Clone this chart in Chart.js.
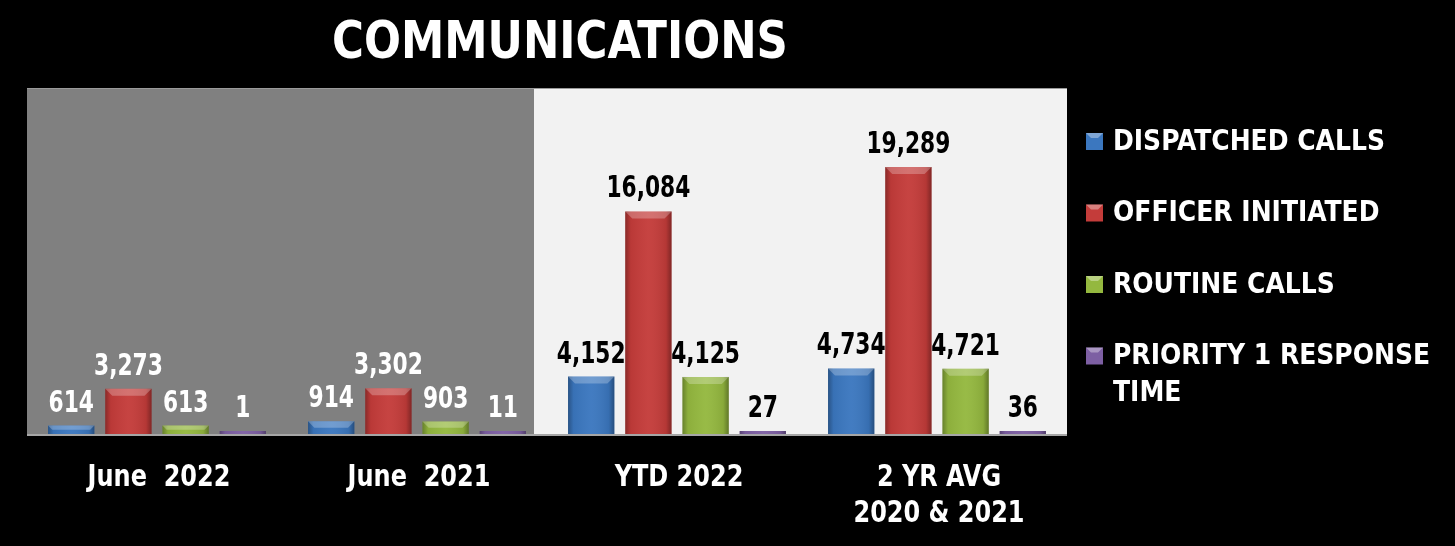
<!DOCTYPE html>
<html>
<head>
<meta charset="utf-8">
<script src="https://cdn.jsdelivr.net/npm/chart.js@4/dist/chart.umd.min.js"></script>
<style>
  html, body { margin: 0; padding: 0; background: #000; }
  #wrap { width: 1455px; height: 546px; position: relative; }
</style>
</head>
<body>
<div id="wrap"><canvas id="c" width="1455" height="546"></canvas></div>
<script>
const titleText = 'COMMUNICATIONS';
const categories = ['June  2022', 'June  2021', 'YTD 2022', ['2 YR AVG', '2020 & 2021']];
const seriesNames = ['DISPATCHED CALLS', 'OFFICER INITIATED', 'ROUTINE CALLS', 'PRIORITY 1 RESPONSE TIME'];
const dispatchedCalls = [614, 914, 4152, 4734];
const officerInitiated = [3273, 3302, 16084, 19289];
const routineCalls = [613, 903, 4125, 4721];
const priority1Response = [1, 11, 27, 36];
const seriesColors = ['#3b77bf', '#c43c3a', '#94b83f', '#7d5fa3'];

const COND = '"DejaVu Sans Condensed", "Liberation Sans Narrow", sans-serif';

const seriesValues = [dispatchedCalls, officerInitiated, routineCalls, priority1Response];

function splitX(chart) {
  const xs = chart.scales.x;
  const a = xs.getPixelForValue(1), b = xs.getPixelForValue(2);
  return a + (b - a) * 0.45;
}

function narrowText(ctx, text, x, y, sx) {
  ctx.save();
  ctx.translate(x, y);
  ctx.scale(sx, 1);
  ctx.fillText(text, 0, 0);
  ctx.restore();
}

const backgroundPlugin = {
  id: 'bgPanels',
  beforeDatasetsDraw(chart) {
    const { ctx, chartArea: ca } = chart;
    const mid = splitX(chart);
    ctx.save();
    ctx.fillStyle = '#808080';
    ctx.fillRect(ca.left, ca.top, mid - ca.left, ca.bottom - ca.top);
    ctx.fillStyle = '#f2f2f2';
    ctx.fillRect(mid, ca.top, ca.right - mid, ca.bottom - ca.top);
    ctx.strokeStyle = '#9a9a9a';
    ctx.lineWidth = 1;
    ctx.beginPath();
    ctx.moveTo(ca.left, ca.top + 0.5); ctx.lineTo(ca.right, ca.top + 0.5);
    ctx.stroke();
    ctx.restore();
  },
  afterDatasetsDraw(chart) {
    const { ctx, chartArea: ca } = chart;
    ctx.save();
    ctx.beginPath();
    ctx.rect(ca.left, ca.top, ca.right - ca.left, ca.bottom - ca.top);
    ctx.clip();
    chart.data.datasets.forEach((ds, di) => {
      const meta = chart.getDatasetMeta(di);
      meta.data.forEach((el) => {
        const p = el.getProps(['x', 'y', 'base', 'width'], true);
        const left = p.x - p.width / 2, right = p.x + p.width / 2;
        const top = Math.min(p.y, p.base), h = Math.abs(p.base - p.y);
        const g = ctx.createLinearGradient(left, 0, right, 0);
        g.addColorStop(0, 'rgba(0,0,0,0.30)');
        g.addColorStop(0.12, 'rgba(0,0,0,0.05)');
        g.addColorStop(0.5, 'rgba(255,255,255,0.04)');
        g.addColorStop(0.88, 'rgba(0,0,0,0.08)');
        g.addColorStop(1, 'rgba(0,0,0,0.35)');
        ctx.fillStyle = g;
        ctx.fillRect(left, top, p.width, h);
        if (h > 5) {
          const bev = Math.min(7, h / 2);
          ctx.fillStyle = 'rgba(255,255,255,0.25)';
          ctx.beginPath();
          ctx.moveTo(left, top);
          ctx.lineTo(right, top);
          ctx.lineTo(right - bev, top + bev);
          ctx.lineTo(left + bev, top + bev);
          ctx.closePath();
          ctx.fill();
        }
      });
    });
    ctx.restore();
    ctx.save();
    ctx.strokeStyle = '#a6a6a6';
    ctx.lineWidth = 2;
    ctx.beginPath();
    ctx.moveTo(ca.left, ca.bottom + 1); ctx.lineTo(ca.right, ca.bottom + 1);
    ctx.stroke();
    ctx.restore();
  }
};

const textPlugin = {
  id: 'texts',
  afterDatasetsDraw(chart) {
    const { ctx, chartArea: ca } = chart;
    const mid = splitX(chart);
    ctx.save();
    // value labels
    ctx.font = 'bold 31px ' + COND;
    ctx.textAlign = 'center';
    ctx.textBaseline = 'alphabetic';
    chart.data.datasets.forEach((ds, di) => {
      const meta = chart.getDatasetMeta(di);
      meta.data.forEach((el, i) => {
        const p = el.getProps(['x', 'y', 'base'], true);
        const top = Math.min(p.y, p.base);
        ctx.fillStyle = p.x < mid ? '#ffffff' : '#000000';
        narrowText(ctx, ds.data[i].toLocaleString('en-US'), p.x, top - 14, 0.78);
      });
    });
    // title
    ctx.fillStyle = '#ffffff';
    ctx.font = 'bold 52px ' + COND;
    ctx.textBaseline = 'alphabetic';
    narrowText(ctx, titleText, (ca.left + ca.right) / 2 + 13, 58, 0.93);
    // category labels
    const xs = chart.scales.x;
    ctx.font = 'bold 31px ' + COND;
    chart.data.labels.forEach((lab, i) => {
      const lines = Array.isArray(lab) ? lab : [lab];
      const cx = xs.getPixelForValue(i);
      lines.forEach((ln, k) => narrowText(ctx, ln, cx + 2, ca.bottom + 52 + k * 36, 0.86));
    });
    ctx.restore();
  }
};

const legendPlugin = {
  id: 'sideLegend',
  afterDraw(chart) {
    const { ctx, chartArea: ca } = chart;
    const markerX = ca.right + 19;
    const textX = ca.right + 46;
    const maxW = chart.width - textX - 8;
    ctx.save();
    ctx.font = 'bold 29px ' + COND;
    ctx.textAlign = 'left';
    ctx.textBaseline = 'middle';
    chart.data.datasets.forEach((ds, i) => {
      const cy = ca.top + 53 + i * 71.5;
      ctx.fillStyle = ds.backgroundColor;
      ctx.fillRect(markerX, cy - 8, 17, 17);
      ctx.fillStyle = 'rgba(255,255,255,0.35)';
      ctx.beginPath();
      ctx.moveTo(markerX, cy - 8); ctx.lineTo(markerX + 17, cy - 8);
      ctx.lineTo(markerX + 12, cy - 3); ctx.lineTo(markerX + 5, cy - 3);
      ctx.closePath(); ctx.fill();
      const words = ds.label.split(' ');
      const lines = [];
      let cur = '';
      words.forEach(w => {
        const t = cur ? cur + ' ' + w : w;
        if (ctx.measureText(t).width * 0.96 > maxW && cur) { lines.push(cur); cur = w; }
        else cur = t;
      });
      lines.push(cur);
      ctx.fillStyle = '#ffffff';
      lines.forEach((ln, k) => narrowText(ctx, ln, textX, cy + 1 + k * 37, 0.96));
    });
    ctx.restore();
  }
};

const datasets = seriesNames.map((name, i) => ({
  label: name,
  data: seriesValues[i],
  backgroundColor: seriesColors[i],
  borderWidth: 0,
  minBarLength: 3,
  categoryPercentage: 0.88,
  barPercentage: 0.81
}));

new Chart(document.getElementById('c'), {
  type: 'bar',
  data: { labels: categories, datasets },
  options: {
    responsive: false,
    animation: false,
    events: [],
    layout: { padding: { left: 27, right: 388, top: 88, bottom: 112 } },
    plugins: {
      legend: { display: false },
      tooltip: { enabled: false },
      title: { display: false }
    },
    scales: {
      x: {
        grid: { display: false, drawTicks: false },
        border: { display: false },
        ticks: { display: false }
      },
      y: {
        display: false,
        min: 0,
        max: 25000
      }
    }
  },
  plugins: [backgroundPlugin, textPlugin, legendPlugin]
});
</script>
</body>
</html>
